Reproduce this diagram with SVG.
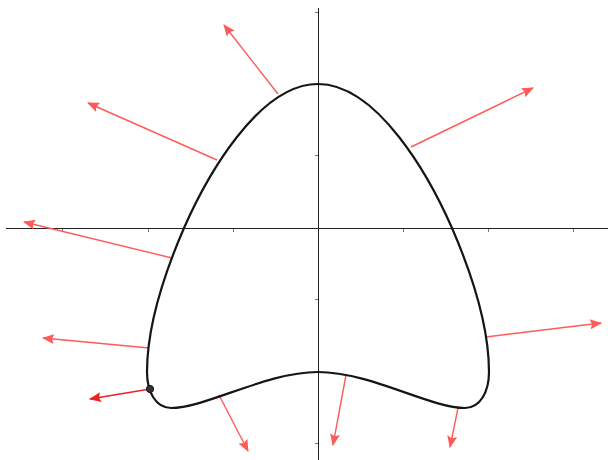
<svg xmlns="http://www.w3.org/2000/svg" width="608" height="460" viewBox="0 0 608 460">
  <style>
    .axis { stroke: #222; stroke-width: 1; fill: none; }
    .tick { stroke: #777; stroke-width: 1; }
    .curve { stroke: #151515; stroke-width: 2.2; fill: none; }
    .vec { stroke: #ff5a5a; stroke-width: 1.4; fill: none; marker-end: url(#headLight); }
    .vec-main { stroke: #ee2020; stroke-width: 1.6; fill: none; marker-end: url(#headMain); }
  </style>
  <defs>
    <marker id="headLight" markerUnits="userSpaceOnUse" markerWidth="12" markerHeight="10" viewBox="0 0 12 10" refX="11" refY="5" orient="auto">
      <path d="M0,0 L12,5 L0,10 L2,5 z" fill="#ff5a5a"/>
    </marker>
    <marker id="headMain" markerUnits="userSpaceOnUse" markerWidth="12" markerHeight="10" viewBox="0 0 12 10" refX="11" refY="5" orient="auto">
      <path d="M0,0 L12,5 L0,10 L2,5 z" fill="#ee2020"/>
    </marker>
  </defs>
  <rect width="608" height="460" fill="#fff"/>
  <g id="axes">
    <line class="axis" x1="6" y1="228.5" x2="608" y2="228.5"/>
    <line class="axis" x1="318.5" y1="8" x2="318.5" y2="460"/>
    <g class="tick">
      <line x1="62.5" y1="229" x2="62.5" y2="232"/>
      <line x1="148.5" y1="229" x2="148.5" y2="232"/>
      <line x1="233.5" y1="229" x2="233.5" y2="232"/>
      <line x1="403.5" y1="229" x2="403.5" y2="232"/>
      <line x1="488.5" y1="229" x2="488.5" y2="232"/>
      <line x1="573.5" y1="229" x2="573.5" y2="232"/>
      <line x1="315" y1="12.5" x2="318" y2="12.5"/>
      <line x1="315" y1="155.5" x2="318" y2="155.5"/>
      <line x1="315" y1="299.5" x2="318" y2="299.5"/>
      <line x1="315" y1="443.5" x2="318" y2="443.5"/>
    </g>
  </g>
  <g id="connectors">
    <line class="vec" x1="278" y1="94" x2="224" y2="25"/>
    <line class="vec" x1="217" y1="160" x2="88" y2="103"/>
    <line class="vec" x1="172" y1="258" x2="24" y2="222"/>
    <line class="vec" x1="149" y1="348" x2="43" y2="338"/>
    <line class="vec" x1="219" y1="395" x2="248" y2="451"/>
    <line class="vec" x1="346" y1="375" x2="333" y2="445"/>
    <line class="vec" x1="458" y1="408" x2="450" y2="447"/>
    <line class="vec" x1="486" y1="337" x2="601" y2="323"/>
    <line class="vec" x1="411" y1="147" x2="533" y2="88"/>
    <line class="vec-main" x1="150" y1="389" x2="90" y2="399"/>
  </g>
  <g id="curve">
    <path class="curve" d="M318,84 C378,84 430,178 452,228 C468,265 489,322 489,372 C489,392 480,408 465,408 C430,408 370,372 318,372 C266,372 206,408 171,408 C156,408 147,392 147,372 C147,322 168,265 184,228 C206,178 258,84 318,84 Z"/>
  </g>
  <g id="point">
    <circle cx="150" cy="389" r="3.6" fill="#333" stroke="#111" stroke-width="1"/>
  </g>
</svg>
